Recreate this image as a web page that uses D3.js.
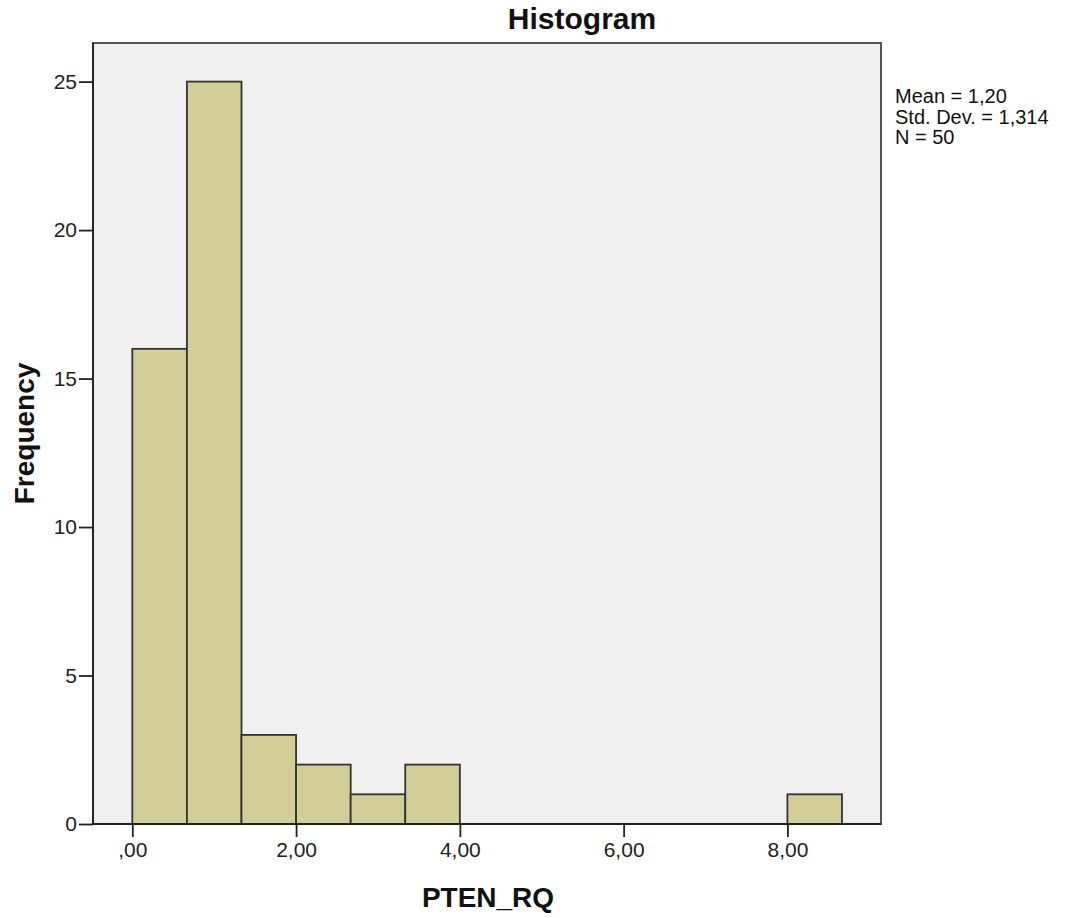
<!DOCTYPE html>
<html><head><meta charset="utf-8">
<script src="https://cdn.jsdelivr.net/npm/d3@7"></script>
<style>body{margin:0;background:#fff;} svg{display:block;font-family:"Liberation Sans",Arial,sans-serif;}</style>
</head><body>
<svg id="c" width="1066" height="918"></svg>
<script>
const binStart = [0, 0.6667, 1.3333, 2.0, 2.6667, 3.3333, 4.0, 4.6667, 5.3333, 6.0, 6.6667, 7.3333, 8.0];
const binWidth = 0.6667;
const counts = [16, 25, 3, 2, 1, 2, 0, 0, 0, 0, 0, 0, 1];
const xTicks = [0, 2, 4, 6, 8];
const xTickLabels = [",00", "2,00", "4,00", "6,00", "8,00"];
const yTicks = [0, 5, 10, 15, 20, 25];
const statsLines = ["Mean = 1,20", "Std. Dev. = 1,314", "N = 50"];

const svg = d3.select("#c");
const L = 93, R = 881, T = 43, B = 824;
const x = d3.scaleLinear().domain([-0.48, 9.143]).range([L, R]);
const y = d3.scaleLinear().domain([0, 26.3]).range([B, T]);

svg.append("rect").attr("x", L).attr("y", T).attr("width", R - L).attr("height", B - T)
  .attr("fill", "#f0f0f0").attr("stroke", "#555").attr("stroke-width", 2);

svg.append("g").selectAll("rect").data(binStart.map((s, i) => ({s, c: counts[i]})).filter(d => d.c > 0))
  .join("rect")
  .attr("x", d => x(d.s)).attr("width", d => x(d.s + binWidth) - x(d.s))
  .attr("y", d => y(d.c)).attr("height", d => y(0) - y(d.c))
  .attr("fill", "#d3ce98").attr("stroke", "#333").attr("stroke-width", 1.8);

// axes lines
svg.append("line").attr("x1", L).attr("x2", R).attr("y1", B).attr("y2", B).attr("stroke", "#222").attr("stroke-width", 1.8);
svg.append("line").attr("x1", L).attr("x2", L).attr("y1", T).attr("y2", B).attr("stroke", "#222").attr("stroke-width", 1.8);

const yAxis = d3.axisLeft(y).tickValues(yTicks).tickSize(14).tickPadding(2);
const gy = svg.append("g").attr("transform", `translate(${L},0)`).call(yAxis);
gy.select(".domain").remove();
gy.selectAll("line").attr("stroke", "#222").attr("stroke-width", 1.8);
gy.selectAll("text").attr("font-size", 21).attr("fill", "#222").attr("font-family", "Liberation Sans, Arial, sans-serif");

const xAxis = d3.axisBottom(x).tickValues(xTicks).tickFormat((d, i) => xTickLabels[i]).tickSize(13).tickPadding(5);
const gx = svg.append("g").attr("transform", `translate(0,${B})`).call(xAxis);
gx.select(".domain").remove();
gx.selectAll("line").attr("stroke", "#222").attr("stroke-width", 1.8);
gx.selectAll("text").attr("font-size", 21).attr("fill", "#222").attr("font-family", "Liberation Sans, Arial, sans-serif");

svg.append("text").attr("x", 582).attr("y", 29).attr("text-anchor", "middle")
  .attr("font-size", 30).attr("font-weight", "bold").attr("fill", "#111").text("Histogram");
svg.append("text").attr("x", 488).attr("y", 907).attr("text-anchor", "middle")
  .attr("font-size", 28).attr("font-weight", "bold").attr("fill", "#111").text("PTEN_RQ");
svg.append("text").attr("transform", `translate(34,${(T + B) / 2}) rotate(-90)`).attr("text-anchor", "middle")
  .attr("font-size", 28).attr("font-weight", "bold").attr("fill", "#111").text("Frequency");

svg.append("g").selectAll("text").data(statsLines).join("text")
  .attr("x", 895).attr("y", (d, i) => 103 + i * 20.7)
  .attr("font-size", 20).attr("fill", "#111").text(d => d);
</script>
</body></html>
